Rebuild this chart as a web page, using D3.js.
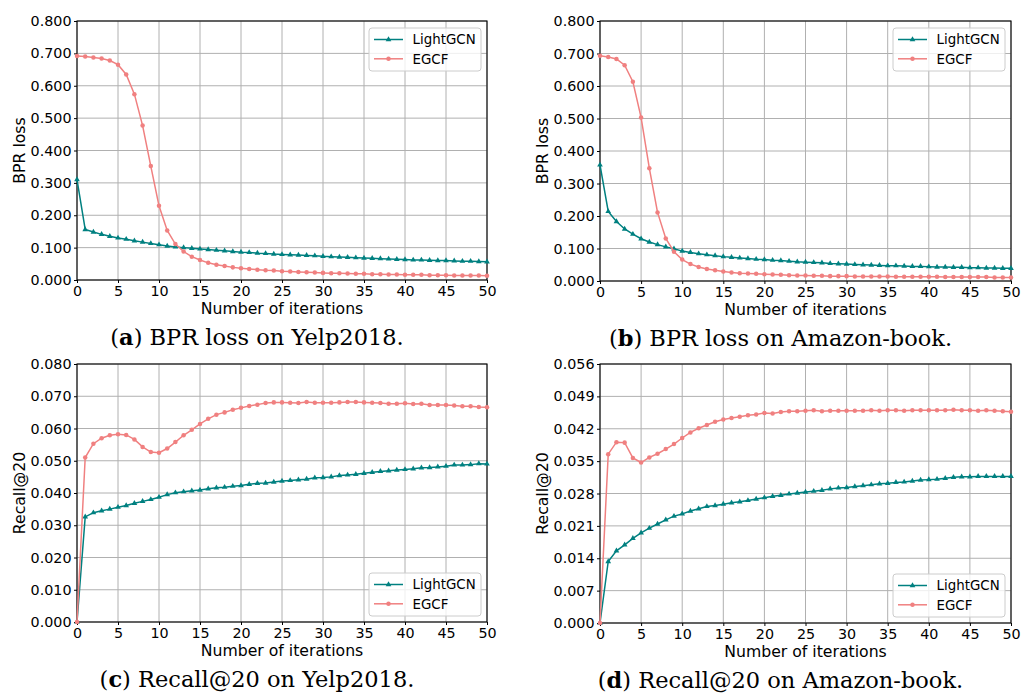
<!DOCTYPE html>
<html>
<head>
<meta charset="utf-8">
<script src="https://cdn.jsdelivr.net/npm/d3@7"></script>
<style>
	body { margin: 0; background: #fff; }
	svg { display: block; }
</style>
</head>
<body>
<script>
// x values and tick labels
const iterations = d3.range(51)
const xTicks = [0, 5, 10, 15, 20, 25, 30, 35, 40, 45, 50]
const lossTicks = [0, 0.1, 0.2, 0.3, 0.4, 0.5, 0.6, 0.7, 0.8]
const yelpRecallTicks = [0, 0.01, 0.02, 0.03, 0.04, 0.05, 0.06, 0.07, 0.08]
const amazonRecallTicks = [0, 0.007, 0.014, 0.021, 0.028, 0.035, 0.042, 0.049, 0.056]
const seriesNames = ["LightGCN", "EGCF"]

// (a) BPR loss on Yelp2018
const yelpLossLightGCN = [0.310, 0.156, 0.148, 0.141, 0.135, 0.130, 0.126, 0.121, 0.117, 0.113,
	0.109, 0.105, 0.102, 0.100, 0.098, 0.096, 0.094, 0.092, 0.090, 0.088,
	0.086, 0.085, 0.083, 0.082, 0.080, 0.079, 0.078, 0.077, 0.076, 0.075,
	0.073, 0.072, 0.071, 0.070, 0.069, 0.068, 0.067, 0.066, 0.065, 0.064,
	0.063, 0.062, 0.062, 0.061, 0.060, 0.060, 0.059, 0.058, 0.058, 0.057, 0.056]
const yelpLossEGCF = [0.692, 0.690, 0.687, 0.684, 0.678, 0.665, 0.635, 0.574, 0.477, 0.352,
	0.229, 0.153, 0.111, 0.088, 0.072, 0.062, 0.053, 0.047, 0.043, 0.039,
	0.036, 0.034, 0.032, 0.030, 0.029, 0.027, 0.026, 0.025, 0.024, 0.023,
	0.022, 0.021, 0.021, 0.020, 0.019, 0.019, 0.018, 0.018, 0.017, 0.017,
	0.016, 0.016, 0.016, 0.015, 0.015, 0.015, 0.014, 0.014, 0.014, 0.014, 0.013]

// (b) BPR loss on Amazon-book
const amazonLossLightGCN = [0.357, 0.214, 0.183, 0.160, 0.144, 0.130, 0.120, 0.112, 0.105, 0.099,
	0.092, 0.088, 0.084, 0.081, 0.078, 0.075, 0.073, 0.071, 0.069, 0.067,
	0.066, 0.064, 0.063, 0.061, 0.059, 0.058, 0.057, 0.056, 0.054, 0.053,
	0.052, 0.051, 0.050, 0.049, 0.048, 0.047, 0.047, 0.046, 0.045, 0.045,
	0.044, 0.043, 0.043, 0.042, 0.042, 0.041, 0.041, 0.040, 0.040, 0.039, 0.039]
const amazonLossEGCF = [0.693, 0.689, 0.683, 0.664, 0.613, 0.503, 0.347, 0.211, 0.131, 0.090,
	0.066, 0.052, 0.043, 0.037, 0.033, 0.029, 0.026, 0.024, 0.023, 0.022,
	0.021, 0.020, 0.019, 0.018, 0.017, 0.017, 0.016, 0.016, 0.015, 0.015,
	0.015, 0.014, 0.014, 0.014, 0.014, 0.014, 0.013, 0.013, 0.013, 0.013,
	0.013, 0.013, 0.012, 0.012, 0.012, 0.012, 0.012, 0.012, 0.011, 0.011, 0.011]

// (c) Recall@20 on Yelp2018
const yelpRecallLightGCN = [0.0000, 0.0326, 0.0339, 0.0345, 0.0350, 0.0356, 0.0361, 0.0368, 0.0374, 0.0380,
	0.0387, 0.0395, 0.0401, 0.0404, 0.0407, 0.0409, 0.0413, 0.0416, 0.0418, 0.0421,
	0.0423, 0.0427, 0.0430, 0.0431, 0.0434, 0.0437, 0.0439, 0.0441, 0.0443, 0.0447,
	0.0448, 0.0450, 0.0454, 0.0456, 0.0458, 0.0461, 0.0464, 0.0467, 0.0469, 0.0471,
	0.0473, 0.0475, 0.0478, 0.0479, 0.0481, 0.0483, 0.0487, 0.0487, 0.0488, 0.0491, 0.0490]
const yelpRecallEGCF = [0.0000, 0.0510, 0.0553, 0.0570, 0.0579, 0.0582, 0.0580, 0.0566, 0.0543, 0.0527,
	0.0525, 0.0538, 0.0558, 0.0579, 0.0596, 0.0614, 0.0630, 0.0643, 0.0650, 0.0658,
	0.0664, 0.0670, 0.0674, 0.0679, 0.0681, 0.0681, 0.0680, 0.0679, 0.0682, 0.0680,
	0.0680, 0.0680, 0.0681, 0.0682, 0.0682, 0.0681, 0.0680, 0.0679, 0.0677, 0.0677,
	0.0678, 0.0676, 0.0677, 0.0673, 0.0673, 0.0673, 0.0671, 0.0669, 0.0669, 0.0667, 0.0666]

// (d) Recall@20 on Amazon-book
const amazonRecallLightGCN = [0.0000, 0.0133, 0.0156, 0.0169, 0.0183, 0.0195, 0.0205, 0.0214, 0.0223, 0.0231,
	0.0236, 0.0242, 0.0247, 0.0252, 0.0254, 0.0257, 0.0260, 0.0262, 0.0265, 0.0268,
	0.0271, 0.0274, 0.0276, 0.0279, 0.0281, 0.0283, 0.0285, 0.0287, 0.0290, 0.0292,
	0.0293, 0.0295, 0.0297, 0.0299, 0.0301, 0.0302, 0.0304, 0.0305, 0.0307, 0.0309,
	0.0310, 0.0311, 0.0313, 0.0315, 0.0316, 0.0316, 0.0317, 0.0317, 0.0317, 0.0317, 0.0317]
const amazonRecallEGCF = [0.0000, 0.0365, 0.0391, 0.0390, 0.0357, 0.0347, 0.0358, 0.0366, 0.0376, 0.0387,
	0.0400, 0.0412, 0.0421, 0.0428, 0.0435, 0.0440, 0.0443, 0.0446, 0.0449, 0.0451,
	0.0454, 0.0453, 0.0456, 0.0458, 0.0458, 0.0459, 0.0460, 0.0458, 0.0459, 0.0459,
	0.0459, 0.0459, 0.0459, 0.0460, 0.0459, 0.0460, 0.0460, 0.0459, 0.0460, 0.0460,
	0.0460, 0.0460, 0.0460, 0.0461, 0.0460, 0.0460, 0.0459, 0.0460, 0.0459, 0.0458, 0.0457]

const colors = ["#008080", "#f08080"]

const svg = d3.select("body").append("svg")
	.attr("width", 1021)
	.attr("height", 695)

svg.append("rect")
	.attr("width", 1021)
	.attr("height", 695)
	.attr("fill", "#fff")

// one panel = one small matplotlib style line chart
function drawPanel(p) {
	const x = d3.scaleLinear().domain([0, 50]).range([p.left, p.right])
	const y = d3.scaleLinear().domain([0, p.ticks[p.ticks.length - 1]]).range([p.bottom, p.top])
	const g = svg.append("g")

	// grid
	g.append("g").selectAll("line")
		.data(xTicks)
		.enter().append("line")
		.attr("x1", d => x(d)).attr("x2", d => x(d))
		.attr("y1", p.top).attr("y2", p.bottom)
		.attr("stroke", "#b0b0b0")
		.attr("stroke-width", 1)
	g.append("g").selectAll("line")
		.data(p.ticks)
		.enter().append("line")
		.attr("x1", p.left).attr("x2", p.right)
		.attr("y1", d => y(d)).attr("y2", d => y(d))
		.attr("stroke", "#b0b0b0")
		.attr("stroke-width", 1)

	// axes
	const xAxis = g.append("g")
		.attr("transform", "translate(0," + p.bottom + ")")
		.call(d3.axisBottom(x).tickValues(xTicks).tickSize(3).tickPadding(2.5).tickFormat(d3.format("d")))
	const yAxis = g.append("g")
		.attr("transform", "translate(" + p.left + ",0)")
		.call(d3.axisLeft(y).tickValues(p.ticks).tickSize(3).tickPadding(2.5).tickFormat(d3.format(".3f")))
	;[xAxis, yAxis].forEach(a => {
		a.select(".domain").remove()
		a.selectAll("text")
			.attr("fill", "#000")
			.style("font-family", "DejaVu Sans")
			.style("font-size", "14.3px")
	})

	// frame
	g.append("rect")
		.attr("x", p.left).attr("y", p.top)
		.attr("width", p.right - p.left)
		.attr("height", p.bottom - p.top)
		.attr("fill", "none")
		.attr("stroke", "#000")
		.attr("stroke-width", 1.1)

	// series lines and markers
	const line = d3.line()
		.x((d, i) => x(iterations[i]))
		.y(d => y(d))
	p.series.forEach((vals, s) => {
		g.append("path")
			.datum(vals)
			.attr("d", line)
			.attr("fill", "none")
			.attr("stroke", colors[s])
			.attr("stroke-width", 1.5)
		g.append("g").selectAll("path")
			.data(vals)
			.enter().append("path")
			.attr("transform", (d, i) => "translate(" + x(iterations[i]) + "," + y(d) + ")")
			.attr("d", marker(s))
			.attr("fill", colors[s])
	})

	// axis labels
	g.append("text")
		.attr("x", (p.left + p.right) / 2)
		.attr("y", p.bottom + 34)
		.attr("text-anchor", "middle")
		.style("font-family", "DejaVu Sans")
		.style("font-size", "15.7px")
		.text("Number of iterations")
	g.append("text")
		.attr("transform", "translate(" + (p.left - 57.5) + "," + ((p.top + p.bottom) / 2) + ") rotate(-90)")
		.attr("dy", "0.35em")
		.attr("text-anchor", "middle")
		.style("font-family", "DejaVu Sans")
		.style("font-size", "15.7px")
		.text(p.ylabel)

	// legend
	const lx = p.right - 118
	const ly = p.legendTop ? p.top + 7 : p.bottom - 49
	const lg = g.append("g").attr("transform", "translate(" + lx + "," + ly + ")")
	lg.append("rect")
		.attr("width", 112).attr("height", 43)
		.attr("rx", 3)
		.attr("fill", "#fff").attr("fill-opacity", 0.8)
		.attr("stroke", "#cccccc")
	seriesNames.forEach((name, s) => {
		const ry = 11.5 + s * 19.3
		lg.append("line")
			.attr("x1", 5).attr("x2", 34)
			.attr("y1", ry).attr("y2", ry)
			.attr("stroke", colors[s])
			.attr("stroke-width", 1.5)
		lg.append("path")
			.attr("transform", "translate(19.5," + ry + ")")
			.attr("d", marker(s))
			.attr("fill", colors[s])
		lg.append("text")
			.attr("x", 43.5).attr("y", ry)
			.attr("dy", "0.36em")
			.style("font-family", "DejaVu Sans")
			.style("font-size", "13.4px")
			.text(name)
	})

	// caption under the panel
	const cap = svg.append("text")
		.attr("x", (p.left + p.right) / 2 - 25)
		.attr("y", p.bottom + 65)
		.attr("text-anchor", "middle")
		.style("font-family", "DejaVu Serif")
		.style("font-size", "22.5px")
	cap.append("tspan").text("(")
	cap.append("tspan").attr("font-weight", "bold").text(p.letter)
	cap.append("tspan").text(") " + p.caption)
}

// LightGCN gets a small triangle, EGCF a small dot
function marker(s) {
	if (s === 0) return d3.symbol().type(d3.symbolTriangle).size(14)()
	return d3.symbol().type(d3.symbolCircle).size(16)()
}

drawPanel({
	left: 77, right: 487, top: 21, bottom: 280,
	ticks: lossTicks, ylabel: "BPR loss", legendTop: true,
	series: [yelpLossLightGCN, yelpLossEGCF],
	letter: "a", caption: "BPR loss on Yelp2018."
})
drawPanel({
	left: 600, right: 1011, top: 21, bottom: 281,
	ticks: lossTicks, ylabel: "BPR loss", legendTop: true,
	series: [amazonLossLightGCN, amazonLossEGCF],
	letter: "b", caption: "BPR loss on Amazon-book."
})
drawPanel({
	left: 77, right: 487, top: 364, bottom: 622,
	ticks: yelpRecallTicks, ylabel: "Recall@20", legendTop: false,
	series: [yelpRecallLightGCN, yelpRecallEGCF],
	letter: "c", caption: "Recall@20 on Yelp2018."
})
drawPanel({
	left: 600, right: 1011, top: 364, bottom: 623,
	ticks: amazonRecallTicks, ylabel: "Recall@20", legendTop: false,
	series: [amazonRecallLightGCN, amazonRecallEGCF],
	letter: "d", caption: "Recall@20 on Amazon-book."
})
</script>
</body>
</html>
